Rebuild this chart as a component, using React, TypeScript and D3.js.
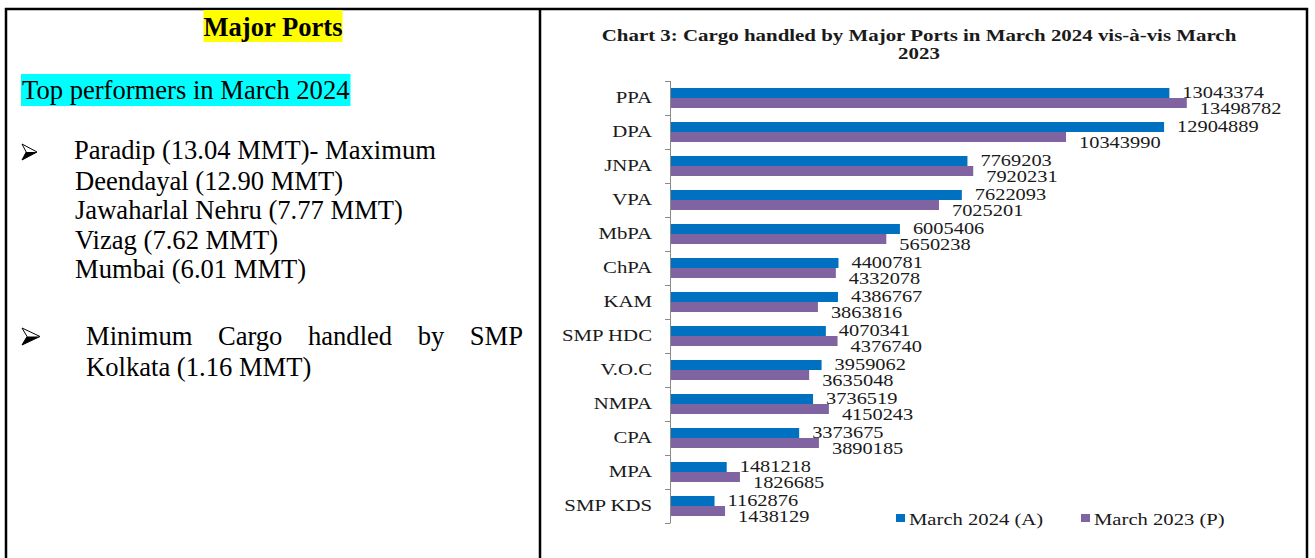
import React, { useRef, useEffect } from 'react';
import * as d3 from 'd3';

// chart data (tonnes)
const ports = ['PPA', 'DPA', 'JNPA', 'VPA', 'MbPA', 'ChPA', 'KAM', 'SMP HDC', 'V.O.C', 'NMPA', 'CPA', 'MPA', 'SMP KDS'];
const march2024 = [13043374, 12904889, 7769203, 7622093, 6005406, 4400781, 4386767, 4070341, 3959062, 3736519, 3373675, 1481218, 1162876];
const march2023 = [13498782, 10343990, 7920231, 7025201, 5650238, 4332078, 3863816, 4376740, 3635048, 4150243, 3890185, 1826685, 1438129];
const seriesNames = ['March 2024 (A)', 'March 2023 (P)'];
const seriesColors = ['#0070C0', '#8064A2'];
const chartTitle = ['Chart 3: Cargo handled by Major Ports in March 2024 vis-à-vis March', '2023'];

// left panel text
const heading = 'Major Ports';
const subHeading = 'Top performers in March 2024';
const topPerformers = ['Paradip (13.04 MMT)- Maximum', 'Deendayal (12.90 MMT)', 'Jawaharlal Nehru (7.77 MMT)', 'Vizag (7.62 MMT)', 'Mumbai (6.01 MMT)'];
const minimumLines = ['Minimum Cargo handled by SMP', 'Kolkata (1.16 MMT)'];

const W = 1315;
const H = 558;
const SERIF = '"Liberation Serif", "Times New Roman", serif';

const App = () => {
  const ref = useRef<SVGSVGElement>(null);

  useEffect(() => {
    const svg = d3.select(ref.current);
    svg.selectAll('*').remove();

    // table borders
    const frame = svg.append('g').attr('stroke', '#000').attr('stroke-width', 2.5);
    frame.append('line').attr('x1', 5).attr('x2', 1308).attr('y1', 9).attr('y2', 9);
    [6, 540, 1307].forEach(xp =>
      frame.append('line').attr('x1', xp).attr('x2', xp).attr('y1', 8).attr('y2', H));

    // ---- left panel ----
    const left = svg.append('g').attr('font-family', SERIF).attr('font-size', 26.6).attr('fill', '#000');

    const head = left.append('text')
      .attr('x', 273).attr('y', 36)
      .attr('text-anchor', 'middle')
      .attr('font-weight', 'bold')
      .text(heading);
    const hb = (head.node() as SVGTextElement).getBBox();
    left.insert('rect', ':first-child')
      .attr('x', hb.x).attr('y', 10).attr('width', hb.width).attr('height', 32)
      .attr('fill', '#FFFF00');

    const sub = left.append('text').attr('x', 22).attr('y', 99).text(subHeading);
    const sb = (sub.node() as SVGTextElement).getBBox();
    left.insert('rect', ':first-child')
      .attr('x', 21).attr('y', 74).attr('width', sb.width + 2).attr('height', 32)
      .attr('fill', '#00FFFF');

    // arrowhead bullets
    const arrow = (x0: number, y0: number, w: number, h: number) => {
      const g = left.append('g');
      const notch = x0 + w * 0.28;
      g.append('path')
        .attr('d', `M${x0},${y0} L${x0 + w},${y0 + h / 2} L${x0},${y0 + h} L${notch},${y0 + h / 2} Z`)
        .attr('fill', '#fff').attr('stroke', '#000').attr('stroke-width', 1);
      g.append('path')
        .attr('d', `M${notch},${y0 + h / 2} L${x0 + w},${y0 + h / 2} L${x0},${y0 + h} Z`)
        .attr('fill', '#000');
    };

    arrow(22, 144, 15, 16);
    const lineY = [159, 190, 219, 249, 278];
    topPerformers.forEach((t, i) => {
      left.append('text').attr('x', i === 0 ? 74 : 75).attr('y', lineY[i]).text(t);
    });

    arrow(22, 328, 18, 17);
    // justified first line
    const words = minimumLines[0].split(' ');
    const wEls = words.map(w => left.append('text').attr('y', 345).text(w));
    const widths = wEls.map(e => (e.node() as SVGTextElement).getComputedTextLength());
    const x0 = 86, x1 = 523;
    const gap = (x1 - x0 - d3.sum(widths)) / (words.length - 1);
    let cx = x0;
    wEls.forEach((e, i) => {
      e.attr('x', cx);
      cx += widths[i] + gap;
    });
    left.append('text').attr('x', 86).attr('y', 376).text(minimumLines[1]);

    // ---- chart panel ----
    const chart = svg.append('g').attr('font-family', SERIF).attr('fill', '#000');

    chart.selectAll('text.title')
      .data(chartTitle)
      .enter().append('text')
      .attr('class', 'title')
      .attr('transform', (d, i) => `translate(919, ${i === 0 ? 40.5 : 59}) scale(1.23,1)`)
      .attr('text-anchor', 'middle')
      .attr('font-weight', 'bold')
      .attr('font-size', 17)
      .attr('fill', '#1a1a1a')
      .text(d => d);

    const x = d3.scaleLinear().domain([0, 14000000]).range([670, 1206]);
    const y = d3.scaleBand<string>()
      .domain(ports)
      .range([81, 523])
      .paddingInner(14 / 34)
      .paddingOuter(7 / 34);
    const inner = d3.scaleBand<string>().domain(seriesNames).range([0, y.bandwidth()]);

    // vertical axis with ticks between categories
    const axis = chart.append('g').attr('stroke', '#8a8a8a').attr('stroke-width', 1);
    const yTop = y.range()[0];
    axis.append('line').attr('x1', 670.5).attr('x2', 670.5).attr('y1', yTop).attr('y2', y.range()[1]);
    axis.selectAll('line.tick')
      .data(d3.range(ports.length + 1))
      .enter().append('line')
      .attr('class', 'tick')
      .attr('x1', 665).attr('x2', 670.5)
      .attr('y1', i => yTop + i * y.step() + 0.5)
      .attr('y2', i => yTop + i * y.step() + 0.5);

    const series = [march2024, march2023];
    const rows = ports.map((p, i) => ({ port: p, values: series.map(s => s[i]) }));

    const groups = chart.selectAll('g.row')
      .data(rows)
      .enter().append('g')
      .attr('class', 'row')
      .attr('transform', d => `translate(0, ${y(d.port)})`);

    groups.selectAll('rect')
      .data(d => d.values.map((v, j) => ({ v, j })))
      .enter().append('rect')
      .attr('x', x(0) + 1)
      .attr('y', d => inner(seriesNames[d.j]) as number)
      .attr('width', d => x(d.v) - x(0) - 1)
      .attr('height', inner.bandwidth())
      .attr('fill', d => seriesColors[d.j]);

    groups.selectAll('text.val')
      .data(d => d.values.map((v, j) => ({ v, j })))
      .enter().append('text')
      .attr('class', 'val')
      .attr('transform', d => {
        const cy = (inner(seriesNames[d.j]) as number) + inner.bandwidth() / 2 + (d.j === 0 ? -1 : 5.5);
        return `translate(${x(d.v) + 13}, ${cy}) scale(1.2,1)`;
      })
      .attr('dy', '0.34em')
      .attr('font-size', 17)
      .attr('fill', '#1a1a1a')
      .text(d => String(d.v));

    chart.selectAll('text.cat')
      .data(ports)
      .enter().append('text')
      .attr('class', 'cat')
      .attr('transform', d => `translate(652, ${(y(d) as number) + y.bandwidth() / 2}) scale(1.3,1)`)
      .attr('dy', '0.34em')
      .attr('text-anchor', 'end')
      .attr('font-size', 16)
      .attr('fill', '#1a1a1a')
      .text(d => d);

    // legend
    const legendX = [896, 1081];
    const leg = chart.selectAll('g.leg')
      .data(seriesNames)
      .enter().append('g')
      .attr('class', 'leg')
      .attr('transform', (d, i) => `translate(${legendX[i]}, 514)`);
    leg.append('rect').attr('width', 9).attr('height', 8).attr('fill', (d, i) => seriesColors[i]);
    leg.append('text')
      .attr('transform', 'translate(13, 10.5) scale(1.18,1)')
      .attr('font-size', 17.5)
      .attr('fill', '#1a1a1a')
      .text(d => d);
  }, []);

  return (
    <svg
      ref={ref}
      width={W}
      height={H}
      style={{ position: 'absolute', left: 0, top: 0, background: '#fff' }}
    />
  );
};

export default App;
